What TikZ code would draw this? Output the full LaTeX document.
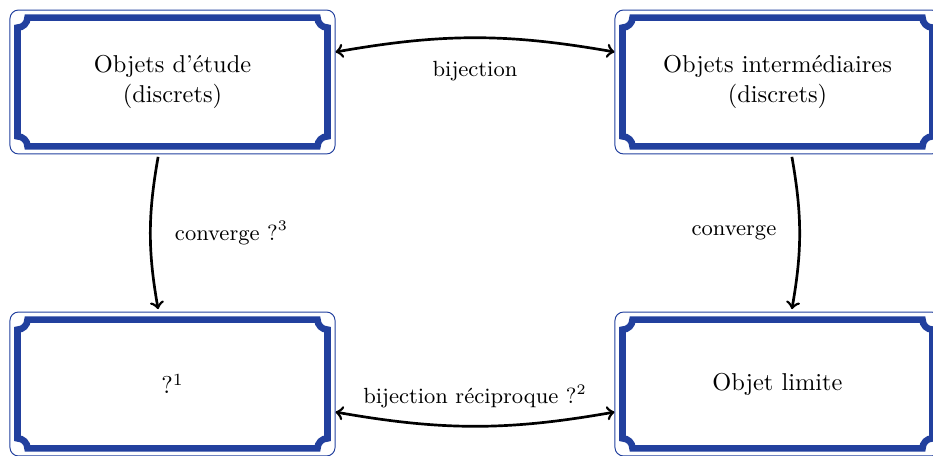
\documentclass[tikz,border=0pt]{standalone}
\usepackage{amsmath}
\usepackage{tikz}
\usetikzlibrary{positioning}
\definecolor{bleucadre}{RGB}{34,64,158}
\tikzset{
  boite/.style={draw=bleucadre, rounded corners=3.5pt, minimum width=133.3pt, minimum height=59pt, inner sep=0pt, align=center},
  cadre/.style={draw=bleucadre, line width=2.7pt},
  fleche/.style={line width=1.1pt},
  etiquette/.style={font=\small}
}
% cadre epais a coins creux
\newcommand{\cadre}[1]{%
  \draw[cadre] ([yshift=-3.3pt]#1.north) -- ([shift={(-7.4pt,-3.3pt)}]#1.north east)
    arc[start angle=180, end angle=270, radius=4.1pt] -- ([shift={(-3.3pt,7.4pt)}]#1.south east)
    arc[start angle=90, end angle=180, radius=4.1pt] -- ([shift={(7.4pt,3.3pt)}]#1.south west)
    arc[start angle=0, end angle=90, radius=4.1pt] -- ([shift={(3.3pt,-7.4pt)}]#1.north west)
    arc[start angle=270, end angle=360, radius=4.1pt] -- cycle;}

\begin{document}
\begin{tikzpicture}[x=0.41pt, y=-0.41pt]
            \useasboundingbox (0,0) rectangle (933,456);
            \clip (0,0) rectangle (933,456);

            \node[boite] (etude) at (172.5, 82) {Objets d'étude\\(discrets)};
            \node[boite] (inter) at (777.5, 82) {Objets intermédiaires\\(discrets)};
            \node[boite] (inconnu) at (172.5, 384) {?$^1$};
            \node[boite] (limite) at (777.5, 384) {Objet limite};
            \cadre{etude}
            \cadre{inter}
            \cadre{inconnu}
            \cadre{limite}

            \draw[fleche, <->] ([yshift=12.3pt]etude.east) to[bend left=10] node[etiquette, below=5.8pt] {bijection} ([yshift=12.3pt]inter.west);
            \draw[fleche, <->] ([yshift=-11.5pt]inconnu.east) to[bend right=10] node[etiquette, above=3.6pt] {bijection réciproque ?$^2$} ([yshift=-11.5pt]limite.west);
            \draw[fleche, ->] ([xshift=-5.9pt, yshift=-1pt]etude.south) to[bend right=10] node[etiquette, right=6.2pt] {converge ?$^3$} ([xshift=-5.9pt, yshift=1pt]inconnu.north);
            \draw[fleche, ->] ([xshift=5.9pt, yshift=-1pt]inter.south) to[bend left=10] node[etiquette, left=5.7pt] {converge} ([xshift=5.9pt, yshift=1pt]limite.north);
        \end{tikzpicture}
\end{document}
